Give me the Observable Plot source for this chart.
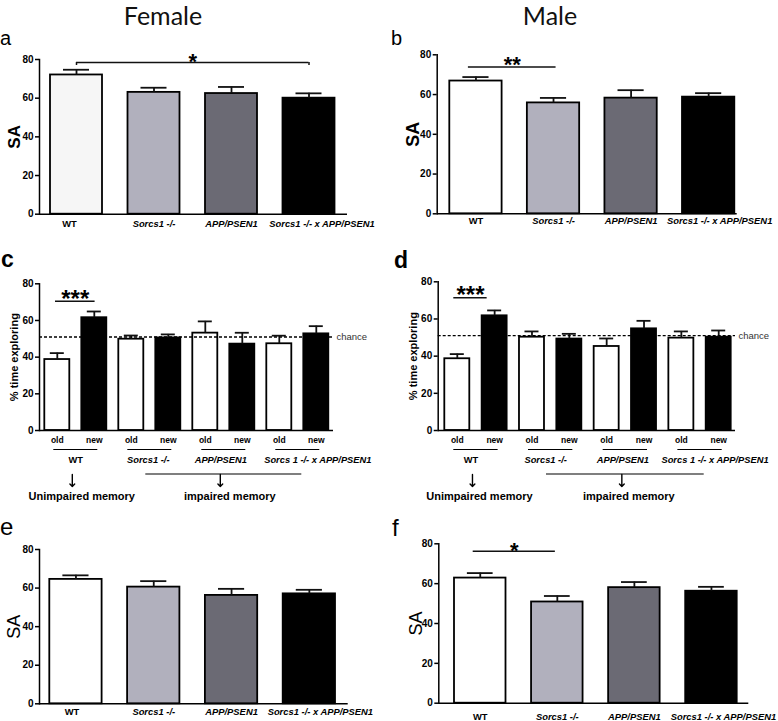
<!DOCTYPE html>
<html><head><meta charset="utf-8">
<script src="https://cdn.jsdelivr.net/npm/d3@7"></script>
<script src="https://cdn.jsdelivr.net/npm/@observablehq/plot@0.6"></script>
<style>
html,body{margin:0;padding:0;background:#fff;}
#fig{position:relative;width:778px;height:721px;overflow:hidden;font-family:"Liberation Sans",Arial,sans-serif;background:#fff;}
.title{position:absolute;font-family:Lato,"Open Sans",sans-serif;font-size:25px;line-height:30px;color:#111;transform:translateX(-50%);white-space:nowrap;}
.letter{position:absolute;font-family:"Liberation Sans",Arial,sans-serif;color:#000;line-height:1;}
</style></head><body><div id="fig"></div>
<script>
// ---------- data ----------
const genotypes = ["WT", "Sorcs1 -/-", "APP/PSEN1", "Sorcs1 -/- x APP/PSEN1"];
const genotypeFills = ["#ffffff", "#b1b0bd", "#6b6a74", "#000000"];
const genotypeFillsA = ["#f6f6f6", "#b1b0bd", "#6b6a74", "#000000"];
// panel a (female, SA)
const saFemaleMean = [72.0, 63.0, 62.4, 60.0];
const saFemaleSem = [2.7, 2.4, 3.4, 2.5];
// panel b (male, SA)
const saMaleMean = [66.8, 55.8, 58.2, 58.7];
const saMaleSem = [2.0, 2.5, 4.0, 2.0];
// panel e (female, SA)
const saFemaleEMean = [64.5, 60.5, 56.2, 57.0];
const saFemaleESem = [2.1, 3.1, 3.4, 2.1];
// panel f (male, SA)
const saMaleFMean = [62.8, 50.8, 58.0, 56.2];
const saMaleFSem = [2.5, 3.0, 2.8, 2.2];
// panels c/d (% time exploring, old/new object)
const norGroups = ["WT", "Sorcs1 -/-", "APP/PSEN1", "Sorcs 1 -/- x APP/PSEN1"];
const norObjects = ["old", "new"];
const norFemaleMean = [38.7, 61.5, 49.8, 50.5, 53.1, 47.1, 47.3, 52.7];
const norFemaleSem = [3.5, 3.4, 2.0, 1.9, 6.4, 6.2, 4.4, 4.2];
const norMaleMean = [38.6, 61.7, 50.2, 49.2, 45.2, 54.7, 49.7, 50.2];
const norMaleSem = [2.5, 2.9, 3.1, 2.8, 4.3, 4.3, 3.6, 3.6];
const chanceLevel = 51;
const yTicks = [0, 20, 40, 60, 80];
const memoryLabels = ["Unimpaired memory", "impaired memory"];

// ---------- helpers ----------
const fig = document.getElementById("fig");
const baseStyle = {fontFamily: '"Liberation Sans", Arial, sans-serif', fontSize: "10px", fontWeight: "bold", color: "#000", background: "transparent", overflow: "visible", strokeWidth: "1.5"};

function place(node, left, top, width, height) {
  const div = document.createElement("div");
  div.style.cssText = `position:absolute;left:${left}px;top:${top}px;width:${width}px;height:${height}px;`;
  div.appendChild(node);
  fig.appendChild(div);
}
function addText(cls, text, css) {
  const d = document.createElement("div");
  d.className = cls; d.textContent = text;
  Object.assign(d.style, css);
  fig.appendChild(d);
}

function bracketMarks(b, keys, step) {
  const i0 = keys.indexOf(b.from), i1 = keys.indexOf(b.to);
  const row = [{from: b.from, to: b.to, y: b.y, label: b.label}];
  const marks = [
    Plot.ruleY(row, {x1: "from", x2: "to", y: "y", insetLeft: b.insetL, insetRight: b.insetR, stroke: "#111", strokeWidth: 1.5})
  ];
  if (b.tickTo != null) {
    marks.push(Plot.ruleX([b.from, b.to], {x: d => d, y1: b.tickTo, y2: b.y, stroke: "#111", strokeWidth: 1.5}));
  }
  const dx = ((i1 - i0) * step + b.insetL - b.insetR) / 2;
  marks.push(Plot.text(row, {x: "from", y: "y", text: "label", dx, dy: b.labelDy, fontSize: b.size, fontWeight: "bold", lineAnchor: "middle"}));
  return marks;
}

function yAxis() {
  return {domain: [0, 80], ticks: yTicks, tickSize: 4, tickPadding: 2, line: true, label: null, tickFormat: d => String(d)};
}

function saPanel(c) {
  const n = genotypes.length;
  const step = (c.barR - c.barL - c.barW) / (n - 1);
  const rows = genotypes.map((g, i) => ({g, mean: c.means[i], hi: c.means[i] + c.sems[i], fill: c.fills[i]}));
  const lbl = {x: "g", text: "g", frameAnchor: "bottom", dy: c.labelDy, fontSize: 9.4, fontWeight: "bold", lineAnchor: "middle"};
  const marks = [
    Plot.barY(rows, {x: "g", y: "mean", fill: "fill", stroke: "#000", strokeWidth: 1.8}),
    Plot.ruleX(rows, {x: "g", y1: "mean", y2: "hi", stroke: "#111", strokeWidth: 1.8}),
    Plot.tickY(rows, {x: "g", y: "hi", stroke: "#111", strokeWidth: 1.8, inset: c.barW * 0.25}),
    Plot.ruleY([0], {stroke: "#000", strokeWidth: 1.6}),
    Plot.text(rows.slice(0, 1), {...lbl, dx: c.wtDx}),
    Plot.text(rows.slice(1, 3), {...lbl, fontStyle: "italic"}),
    Plot.text(rows.slice(3), {...lbl, fontStyle: "italic", dx: c.lastDx}),
    Plot.text(["SA"], {frameAnchor: "left", text: d => d, rotate: -90, dx: c.saDx, fontSize: c.saSize, fontWeight: c.saWeight, textAnchor: "middle", lineAnchor: "middle"})
  ];
  if (c.bracket) marks.push(...bracketMarks(c.bracket, genotypes, step));
  const svg = Plot.plot({
    width: c.width, height: c.height,
    marginLeft: c.axisL - c.left, marginRight: c.left + c.width - c.axisR,
    marginTop: c.y80 - c.top, marginBottom: c.top + c.height - c.y0,
    x: {domain: genotypes, range: [c.barL - c.left, c.barR - c.left], paddingInner: 1 - c.barW / step, paddingOuter: 0, round: false, axis: null},
    y: yAxis(),
    style: baseStyle,
    marks
  });
  place(svg, c.left, c.top, c.width, c.height);
}

function norPanel(c) {
  const keys = norGroups.flatMap(g => norObjects.map(o => g + "|" + o));
  const n = keys.length;
  const step = (c.barR - c.barL - c.barW) / (n - 1);
  const rows = keys.map((k, i) => ({k, obj: norObjects[i % 2], mean: c.means[i], hi: c.means[i] + c.sems[i], fill: i % 2 === 0 ? "#ffffff" : "#000000"}));
  const groups = norGroups.map(g => ({g, old: g + "|old", neu: g + "|new"}));
  const gdx = step / 2;
  const glbl = {x: "old", text: "g", frameAnchor: "bottom", dy: 30, fontSize: 9.3, fontWeight: "bold", lineAnchor: "middle"};
  const marks = [
    Plot.barY(rows, {x: "k", y: "mean", fill: "fill", stroke: "#000", strokeWidth: 1.8}),
    Plot.ruleX(rows, {x: "k", y1: "mean", y2: "hi", stroke: "#111", strokeWidth: 1.8}),
    Plot.tickY(rows, {x: "k", y: "hi", stroke: "#111", strokeWidth: 1.8, inset: c.barW * 0.22}),
    Plot.ruleY([chanceLevel], {stroke: "#000", strokeWidth: 1.3, strokeDasharray: "3,2"}),
    Plot.text(["chance"], {frameAnchor: "right", y: () => chanceLevel, text: d => d, textAnchor: "start", dx: 3, fontSize: 9.5, fontWeight: "normal", fill: "#333"}),
    Plot.ruleY([0], {stroke: "#000", strokeWidth: 1.6}),
    Plot.text(rows, {x: "k", text: "obj", frameAnchor: "bottom", dy: 10, fontSize: 8.5, fontWeight: "bold", lineAnchor: "middle"}),
    Plot.ruleY(groups, {y: () => 0, x1: "old", x2: "neu", dy: 19, insetLeft: 9, insetRight: 9, stroke: "#000", strokeWidth: 1.2}),
    Plot.text(groups.slice(0, 1), {...glbl, dx: gdx + c.gDx[0]}),
    Plot.text(groups.slice(1, 2), {...glbl, dx: gdx + c.gDx[1], fontStyle: "italic"}),
    Plot.text(groups.slice(2, 3), {...glbl, dx: gdx + c.gDx[2], fontStyle: "italic"}),
    Plot.text(groups.slice(3), {...glbl, dx: gdx + c.gDx[3], fontStyle: "italic"}),
    Plot.ruleY([{a: groups[1].old, b: groups[3].neu}], {y: () => 0, x1: "a", x2: "b", dy: 43.5, insetLeft: 27, insetRight: 27, stroke: "#000", strokeWidth: 1.2}),
    Plot.vector([groups[0].old, groups[2].old], {x: d => d, frameAnchor: "bottom", dx: gdx + c.arrowDx, dy: 44, length: 12, rotate: 180, anchor: "start", stroke: "#000", strokeWidth: 1.4}),
    Plot.text([{x: groups[0].old, t: memoryLabels[0]}, {x: groups[2].old, t: memoryLabels[1]}], {x: "x", text: "t", frameAnchor: "bottom", dx: gdx + c.memDx, dy: 66, fontSize: 11, fontWeight: "bold", lineAnchor: "middle"}),
    Plot.text(["% time exploring"], {frameAnchor: "left", text: d => d, rotate: -90, dx: c.labelDx, fontSize: 11, fontWeight: "bold", textAnchor: "middle", lineAnchor: "middle"})
  ];
  if (c.bracket) marks.push(...bracketMarks(c.bracket, keys, step));
  const svg = Plot.plot({
    width: c.width, height: c.height,
    marginLeft: c.axisL - c.left, marginRight: c.left + c.width - c.axisR,
    marginTop: c.y80 - c.top, marginBottom: c.top + c.height - c.y0,
    x: {domain: keys, range: [c.barL - c.left, c.barR - c.left], paddingInner: 1 - c.barW / step, paddingOuter: 0, round: false, axis: null},
    y: yAxis(),
    style: baseStyle,
    marks
  });
  place(svg, c.left, c.top, c.width, c.height);
}

// ---------- titles & letters ----------
addText("title", "Female", {left: "163px", top: "0px"});
addText("title", "Male", {left: "550px", top: "0px"});
addText("letter", "a", {left: "0px", top: "28px", fontSize: "20px"});
addText("letter", "b", {left: "391px", top: "28px", fontSize: "20px"});
addText("letter", "c", {left: "1px", top: "247.5px", fontSize: "23px", fontWeight: "bold"});
addText("letter", "d", {left: "394px", top: "248.5px", fontSize: "23px", fontWeight: "bold"});
addText("letter", "e", {left: "0px", top: "514.7px", fontSize: "24px"});
addText("letter", "f", {left: "392px", top: "515.7px", fontSize: "24px"});

// ---------- panels ----------
saPanel({means: saFemaleMean, sems: saFemaleSem, fills: genotypeFillsA,
  left: 0, top: 40, width: 390, height: 195, axisL: 39, axisR: 347, y80: 59, y0: 213.7,
  barL: 50, barR: 334.5, barW: 52, labelDy: 9.5, wtDx: -7, lastDx: 13, saSize: 17, saWeight: "bold", saDx: -25,
  bracket: {from: genotypes[0], to: genotypes[3], y: 78.4, tickTo: 76.9, insetL: 26, insetR: 26, label: "*", size: 22, labelDy: -1}});

saPanel({means: saMaleMean, sems: saMaleSem, fills: genotypeFills,
  left: 390, top: 35, width: 388, height: 200, axisL: 436.7, axisR: 736.7, y80: 54.3, y0: 213.3,
  barL: 449.3, barR: 734.3, barW: 52.3, labelDy: 7, wtDx: 0, lastDx: 11, saSize: 18, saWeight: "bold", saDx: -24,
  bracket: {from: genotypes[0], to: genotypes[1], y: 73.8, tickTo: null, insetL: 18.6, insetR: 23.6, label: "**", size: 22, labelDy: -1.9}});

norPanel({means: norFemaleMean, sems: norFemaleSem,
  left: 0, top: 265, width: 390, height: 240, axisL: 39, axisR: 333, y80: 283.3, y0: 430,
  barL: 44.3, barR: 328.3, barW: 25, labelDx: -25, memDx: 6, arrowDx: -3.5, gDx: [0, -1.5, -3, 20],
  bracket: {from: "WT|old", to: "WT|new", y: 70.5, tickTo: null, insetL: 10.7, insetR: 11.7, label: "***", size: 24, labelDy: -1.8}});

norPanel({means: norMaleMean, sems: norMaleSem,
  left: 390, top: 265, width: 388, height: 240, axisL: 437.7, axisR: 735, y80: 281.3, y0: 430,
  barL: 444.3, barR: 730.7, barW: 25, labelDx: -24.7, memDx: 3.5, arrowDx: -3.5, gDx: [-5, -5, -2.5, 15],
  bracket: {from: "WT|old", to: "WT|new", y: 71.4, tickTo: null, insetL: 9, insetR: 20, label: "***", size: 24, labelDy: -2}});

saPanel({means: saFemaleEMean, sems: saFemaleESem, fills: genotypeFills,
  left: 0, top: 535, width: 390, height: 186, axisL: 39, axisR: 347.7, y80: 549, y0: 703.3,
  barL: 49.3, barR: 335, barW: 52.3, labelDy: 7.7, wtDx: -4, lastDx: 11, saSize: 18, saWeight: "normal", saDx: -25});

saPanel({means: saMaleFMean, sems: saMaleFSem, fills: genotypeFills,
  left: 390, top: 530, width: 388, height: 191, axisL: 438.3, axisR: 748.3, y80: 543.3, y0: 702.7,
  barL: 454, barR: 736.7, barW: 51.5, labelDy: 13.5, wtDx: 0, lastDx: 12, saSize: 18, saWeight: "normal", saDx: -23,
  bracket: {from: genotypes[0], to: genotypes[1], y: 76.2, tickTo: null, insetL: 18.7, insetR: 27.7, label: "*", size: 22, labelDy: -0.8}});
</script>
</body></html>
